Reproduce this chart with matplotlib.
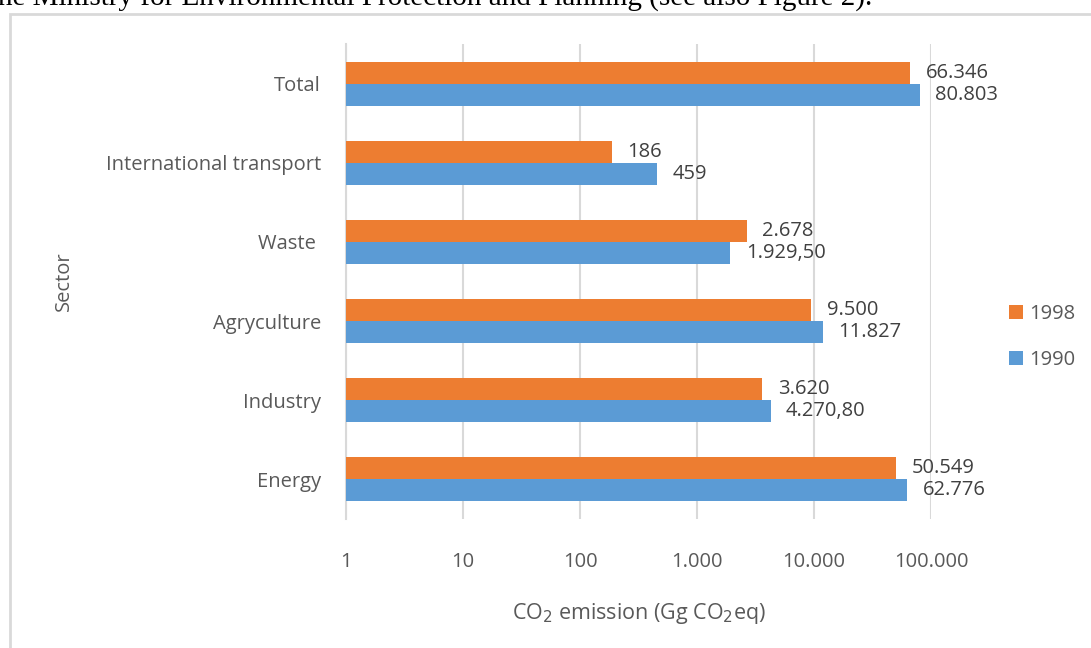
import numpy as np
import matplotlib.pyplot as plt
from matplotlib.patches import Rectangle

# data
sectors = ['Energy', 'Industry', 'Agryculture', 'Waste ', 'International transport', 'Total']
v1990 = [62776, 4270.80, 11827, 1929.50, 459, 80803]
v1998 = [50549, 3620, 9500, 2678, 186, 66346]
lab1990 = ['62.776', '4.270,80', '11.827', '1.929,50', '459', '80.803']
lab1998 = ['50.549', '3.620', '9.500', '2.678', '186', '66.346']
xticks = [1, 10, 100, 1000, 10000, 100000]
xticklabels = ['1', '10', '100', '1.000', '10.000', '100.000']

c1990 = '#5B9BD5'
c1998 = '#ED7D31'
txt = '#595959'

plt.rcParams['font.family'] = ['Open Sans', 'DejaVu Sans']

fig = plt.figure(figsize=(10.91, 6.48), dpi=100)
ax = fig.add_axes([346/1091, 1-519/648, (931-346)/1091, (519-44)/648])

y = np.arange(len(sectors))
h = 0.278
ax.barh(y - h/2, v1990, height=h, left=0, color=c1990, label='1990', zorder=3)
ax.barh(y + h/2, v1998, height=h, left=0, color=c1998, label='1998', zorder=3)

ax.set_xscale('log')
ax.set_xlim(1, 100000)
ax.set_ylim(-0.5, len(sectors) - 0.5)

for yi, v, s in zip(y, v1990, lab1990):
    ax.annotate(s, (v, yi - h/2), xytext=(11, 0), textcoords='offset points',
                va='center', ha='left', fontsize=14.5, color='#404040', annotation_clip=False)
for yi, v, s in zip(y, v1998, lab1998):
    ax.annotate(s, (v, yi + h/2), xytext=(11, 0), textcoords='offset points',
                va='center', ha='left', fontsize=14.5, color='#404040', annotation_clip=False)

ax.set_xticks(xticks)
ax.set_xticklabels(xticklabels, fontsize=14.5, color=txt)
ax.xaxis.set_minor_locator(plt.NullLocator())
ax.tick_params(axis='x', length=0, pad=24)
ax.set_yticks(y)
ax.set_yticklabels(sectors, fontsize=14.5, color=txt)
ax.tick_params(axis='y', length=0, pad=18)

ax.grid(axis='x', color='#D9D9D9', linewidth=1.5, zorder=0)
for s in ['top', 'right', 'bottom']:
    ax.spines[s].set_visible(False)
ax.spines['left'].set_color('#D9D9D9')
ax.spines['left'].set_linewidth(1.5)

ax.set_xlabel('CO$_2$ emission (Gg CO$_2$eq)', fontsize=15.5, color=txt, labelpad=21)
ax.set_ylabel('Sector', fontsize=14.5, color=txt, labelpad=23)

handles, labels = ax.get_legend_handles_labels()
leg = fig.legend(handles[::-1], labels[::-1], loc='center left', bbox_to_anchor=(1009/1091, 1-337/648),
                 frameon=False, fontsize=14.5, handlelength=0.7, handleheight=0.7,
                 handletextpad=0.3, labelspacing=1.3, borderpad=0, borderaxespad=0)
for t in leg.get_texts():
    t.set_color(txt)

# frame around the chart and cut-off line of text above it
fig.patches.append(Rectangle((10/1091, -0.1), 1.2, 1-14/648 + 0.1, transform=fig.transFigure,
                             fill=False, edgecolor='#D9D9D9', linewidth=2))
fig.text(-10/1091, 1-6/648, 'the Ministry for Environmental Protection and Planning (see also Figure 2).',
         family='Liberation Serif', fontsize=21, color='black', ha='left', va='baseline')

fig.savefig('out.png', dpi=100)
